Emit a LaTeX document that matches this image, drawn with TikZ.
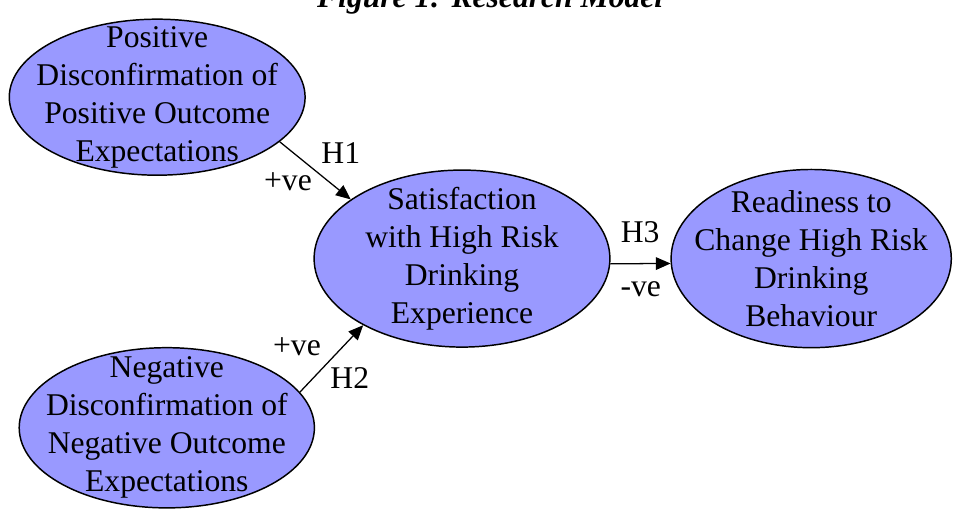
\documentclass[tikz,border=0pt]{standalone}
\usepackage{fontspec}
\setmainfont{Liberation Serif}
\usetikzlibrary{shapes.geometric,arrows.meta}

\begin{document}
\begin{tikzpicture}[
    construct/.style={ellipse, draw=black, line width=0.7pt, fill=myfill, inner sep=0pt},
    txt/.style={align=center, inner sep=0pt, font=\fontsize{15}{18}\selectfont},
    path/.style={-{Triangle[length=7pt,width=6pt]}, line width=0.6pt},
    lbl/.style={inner sep=1pt, font=\fontsize{15}{18}\selectfont}]
    \definecolor{myfill}{RGB}{153,153,255}

    \useasboundingbox (0,0) rectangle (15.9,8.5);
    \clip (0,0) rectangle (15.9,8.5);

    \node[anchor=base, font=\fontsize{15}{18}\selectfont\bfseries\itshape] (title) at (8.17,8.37) {Figure 1: Research Model};

    \node[construct, minimum width=4.93cm, minimum height=2.6cm,
        label={[txt]center:Positive\\Disconfirmation of\\Positive Outcome\\Expectations}] (pdoe) at (2.62,6.88) {};
    \node[construct, minimum width=4.92cm, minimum height=2.67cm,
        label={[txt]center:Negative\\Disconfirmation of\\Negative Outcome\\Expectations}] (ndne) at (2.78,1.37) {};
    \node[construct, minimum width=4.93cm, minimum height=2.95cm,
        label={[txt]center:Satisfaction\\with High Risk\\Drinking\\Experience}] (sat) at (7.7,4.19) {};
    \node[construct, minimum width=4.67cm, minimum height=2.97cm,
        label={[txt]center:Readiness to\\Change High Risk\\Drinking\\Behaviour}] (ready) at (13.52,4.19) {};

    \draw[path] (pdoe.-20) -- (sat.152);
    \draw[path] (ndne.15) -- (sat.214);
    \draw[path] (sat.-2) -- (ready.182);

    \node[lbl] (h1) at (5.68,5.95) {H1};
    \node[lbl] (pos1) at (4.8,5.47) {+ve};
    \node[lbl] (pos2) at (4.95,2.72) {+ve};
    \node[lbl] (h2) at (5.83,2.2) {H2};
    \node[lbl] (h3) at (10.67,4.63) {H3};
    \node[lbl] (neg3) at (10.68,3.68) {-ve};
\end{tikzpicture}
\end{document}
